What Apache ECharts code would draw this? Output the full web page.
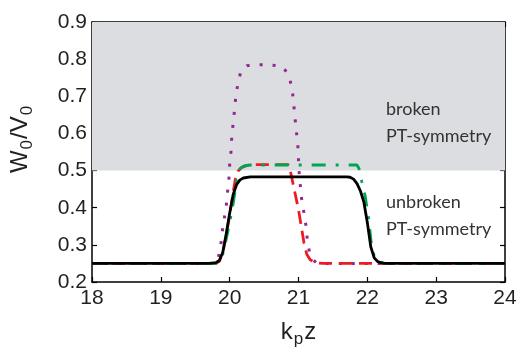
<!DOCTYPE html>
<html><head><meta charset="utf-8">
<script src="https://cdn.jsdelivr.net/npm/echarts@6/dist/echarts.min.js"></script>
<style>html,body{margin:0;padding:0;background:#fff}#c{width:520px;height:353px}</style>
</head><body><div id="c"></div>
<script>
const xTicks = [18, 19, 20, 21, 22, 23, 24];
const yTicks = [0.2, 0.3, 0.4, 0.5, 0.6, 0.7, 0.8, 0.9];
const brokenRange = [0.5, 0.9];

const blackX = [18, 19.7, 19.8, 19.85, 19.9, 19.95, 20.0, 20.05, 20.1, 20.15, 20.2, 20.3, 21.0, 21.7, 21.75, 21.8, 21.85, 21.9, 21.95, 22.0, 22.05, 22.1, 22.15, 22.22, 22.3, 24];
const blackY = [0.25, 0.25, 0.252, 0.258, 0.28, 0.33, 0.385, 0.435, 0.462, 0.475, 0.48, 0.483, 0.483, 0.483, 0.482, 0.477, 0.465, 0.445, 0.415, 0.36, 0.295, 0.265, 0.255, 0.251, 0.25, 0.25];

const greenX = [18, 19.8, 19.85, 19.9, 19.95, 20.0, 20.05, 20.08, 20.1, 20.15, 20.2, 20.3, 21.0, 21.85, 21.88, 21.92, 21.97, 22.02, 22.06, 22.1, 22.15, 22.25, 24];
const greenY = [0.25, 0.25, 0.255, 0.275, 0.315, 0.36, 0.41, 0.445, 0.48, 0.505, 0.512, 0.515, 0.515, 0.515, 0.505, 0.47, 0.43, 0.37, 0.3, 0.27, 0.257, 0.25, 0.25];

const redX = [18, 19.8, 19.85, 19.9, 19.95, 20.0, 20.05, 20.08, 20.12, 20.17, 20.25, 20.35, 20.85, 20.88, 20.92, 20.96, 21.0, 21.04, 21.08, 21.12, 21.17, 21.25, 21.35, 24];
const redY = [0.25, 0.25, 0.256, 0.28, 0.325, 0.38, 0.44, 0.475, 0.498, 0.508, 0.514, 0.516, 0.516, 0.5, 0.465, 0.43, 0.395, 0.35, 0.305, 0.275, 0.26, 0.252, 0.25, 0.25];

const purpleX = [18, 19.75, 19.8, 19.83, 19.87, 19.89, 19.92, 19.95, 19.97, 19.99, 20.0, 20.02, 20.03, 20.05, 20.07, 20.09, 20.12, 20.16, 20.25, 20.35, 20.56, 20.7, 20.77, 20.83, 20.87, 20.91, 20.93, 20.95, 20.97, 20.99, 21.0, 21.01, 21.04, 21.08, 21.11, 21.13, 21.16, 21.2, 21.26, 21.35, 24];
const purpleY = [0.25, 0.25, 0.254, 0.261, 0.297, 0.333, 0.369, 0.405, 0.444, 0.48, 0.516, 0.553, 0.59, 0.626, 0.662, 0.7, 0.735, 0.765, 0.782, 0.785, 0.785, 0.782, 0.778, 0.765, 0.75, 0.715, 0.68, 0.64, 0.605, 0.57, 0.53, 0.495, 0.43, 0.385, 0.35, 0.31, 0.28, 0.262, 0.252, 0.25, 0.25];

const labels = {
  broken: ['broken', 'PT-symmetry'],
  unbroken: ['unbroken', 'PT-symmetry']
};

function pairs(xs, ys) { return xs.map((x, i) => [x, ys[i]]); }

const chart = echarts.init(document.getElementById('c'), null, {renderer: 'canvas'});
const txt = '#231f20';
const tickFont = {fontFamily: 'Liberation Sans', fontSize: 21, color: txt};
const axisLine = {show: true, lineStyle: {color: '#000', width: 1.5}};
const axisTick = {show: true, inside: true, length: 5, lineStyle: {color: '#000', width: 1.2}};
const titleRich = {
  a: {fontFamily: 'Liberation Sans', fontSize: 24, lineHeight: 24, color: txt, verticalAlign: 'bottom', padding: [0, 0, 4, 0]},
  s: {fontFamily: 'Liberation Sans', fontSize: 17, lineHeight: 17, color: txt, verticalAlign: 'bottom', padding: [0, 1, 0, 1]}
};

chart.setOption({
  animation: false,
  backgroundColor: '#fff',
  grid: {left: 89, right: 15, top: 22, bottom: 63},
  xAxis: [{
    type: 'value', min: xTicks[0], max: xTicks[xTicks.length - 1], interval: 1,
    axisLine, axisTick, splitLine: {show: false},
    axisLabel: Object.assign({margin: 6}, tickFont),
    name: '{a|k}{s|p}{a|z}', nameLocation: 'middle', nameGap: 42,
    nameTextStyle: {rich: titleRich}
  }, {
    type: 'value', position: 'top', min: xTicks[0], max: xTicks[xTicks.length - 1], interval: 1,
    axisLine, axisTick, axisLabel: {show: false}, splitLine: {show: false}
  }],
  yAxis: [{
    type: 'value', min: yTicks[0], max: yTicks[yTicks.length - 1], interval: 0.1,
    axisLine, axisTick, splitLine: {show: false},
    axisLabel: Object.assign({margin: 5, formatter: v => v.toFixed(1)}, tickFont),
    name: '{a|W}{s|0}{a|/V}{s|0}', nameLocation: 'middle', nameGap: 56,
    nameTextStyle: {rich: titleRich, padding: [0, 0, 0, 26]}
  }, {
    type: 'value', position: 'right', min: yTicks[0], max: yTicks[yTicks.length - 1], interval: 0.1,
    axisLine, axisTick, axisLabel: {show: false}, splitLine: {show: false}
  }],
  series: [
    {
      type: 'line', data: [], silent: true,
      markArea: {silent: true, itemStyle: {color: 'rgb(220,221,224)'},
        data: [[{yAxis: brokenRange[0]}, {yAxis: brokenRange[1]}]]}
    },
    {name: 'purple', type: 'line', data: pairs(purpleX, purpleY), showSymbol: false,
      lineStyle: {color: '#92278f', width: 3, type: [3, 10], cap: 'butt'}},
    {name: 'red', type: 'line', data: pairs(redX, redY), showSymbol: false,
      lineStyle: {color: '#ed1c24', width: 2.8, type: [13, 7], cap: 'butt'}},
    {name: 'green', type: 'line', data: pairs(greenX, greenY), showSymbol: false,
      lineStyle: {color: '#00a651', width: 2.8, type: [14, 10, 3, 10], cap: 'butt'}},
    {name: 'black', type: 'line', data: pairs(blackX, blackY), showSymbol: false,
      lineStyle: {color: '#000', width: 2.8}}
  ],
  graphic: [
    {type: 'text', z: 100, left: 386, top: 96, style: {text: labels.broken.join('\n'), fontFamily: 'Lato', fontSize: 18, lineHeight: 27, fill: '#333'}},
    {type: 'text', z: 100, left: 386, top: 189, style: {text: labels.unbroken.join('\n'), fontFamily: 'Lato', fontSize: 18, lineHeight: 27, fill: '#333'}}
  ]
});
</script></body></html>
